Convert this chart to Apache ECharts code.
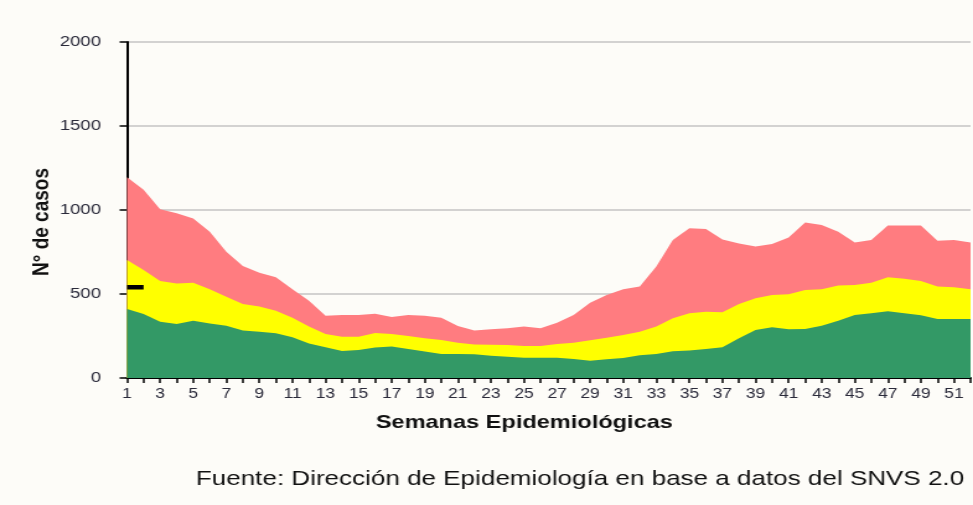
<!DOCTYPE html>
<html>
<head>
<meta charset="utf-8">
<script src="https://cdn.jsdelivr.net/npm/echarts@6/dist/echarts.min.js"></script>
<style>
  html, body { margin: 0; padding: 0; background: #fdfcf8; overflow: hidden; }
  /* the chart is laid out narrow and widened as a whole */
  #chart { width: 785px; height: 505px; transform: scaleX(1.23949); transform-origin: 0 0; }
</style>
</head>
<body>
<div id="chart"></div>
<script>
// Epidemiological weeks 1..52
const weeks = Array.from({ length: 52 }, (_, i) => String(i + 1));

// Endemic channel limits (cases per week)
const upperQuartile = [1195, 1120, 1004, 980, 950, 871, 752, 667, 627, 599, 528, 460, 371, 375, 375, 383, 363, 375, 371, 359, 310, 282, 290, 296, 306, 296, 329, 375, 448, 494, 528, 544, 663, 821, 891, 887, 825, 801, 782, 798, 837, 925, 911, 871, 806, 821, 907, 907, 907, 817, 821, 806];
const median = [702, 643, 577, 563, 567, 528, 484, 440, 425, 401, 359, 306, 262, 246, 246, 268, 262, 250, 236, 226, 210, 200, 198, 196, 190, 190, 202, 210, 224, 240, 256, 276, 306, 355, 385, 395, 391, 440, 474, 494, 498, 524, 528, 550, 554, 567, 599, 591, 577, 544, 540, 528];
const lowerQuartile = [411, 381, 335, 321, 341, 325, 311, 282, 276, 266, 242, 206, 183, 161, 167, 181, 187, 173, 157, 143, 143, 141, 133, 127, 121, 121, 121, 113, 103, 111, 119, 135, 143, 159, 163, 173, 183, 236, 286, 302, 290, 292, 311, 341, 375, 385, 397, 385, 373, 351, 351, 351];

// Cases reported in the current year
const currentYear = [540, 540];

const yTicks = { min: 0, max: 2000, interval: 500 };

const chart = echarts.init(document.getElementById('chart'));

function band(name, data, color) {
  return {
    name, type: 'line', data,
    showSymbol: false, symbol: 'none', smooth: false,
    lineStyle: { width: 0 },
    areaStyle: { color, opacity: 1, origin: 'start' },
    emphasis: { disabled: true },
    silent: true
  };
}

chart.setOption({
  backgroundColor: '#fdfcf8',
  animation: false,
  grid: { left: 102.5, right: 2, top: 42, bottom: 127 },
  xAxis: {
    type: 'category',
    data: weeks,
    boundaryGap: false,
    axisLine: { lineStyle: { color: '#000', width: 2 } },
    axisTick: { show: true, length: 5, interval: 0, lineStyle: { color: '#000', width: 1.5 } },
    axisLabel: { interval: 1, margin: 9, fontFamily: 'Liberation Sans', fontSize: 14, color: '#2a2a3a' },
    splitLine: { show: false }
  },
  yAxis: {
    type: 'value',
    min: yTicks.min, max: yTicks.max, interval: yTicks.interval,
    axisLine: { show: true, lineStyle: { color: '#000', width: 2 } },
    axisTick: { show: true, length: 6, lineStyle: { color: '#000', width: 1.5 } },
    axisLabel: { margin: 21, fontFamily: 'Liberation Sans', fontSize: 15, color: '#2a2a3a',
                 formatter: (v) => String(v) },
    splitLine: { show: true, lineStyle: { color: '#c4c4c4', width: 1.5 } }
  },
  series: [
    band('Zona de alerta', upperQuartile, '#ff7c80'),
    band('Zona de seguridad', median, '#ffff00'),
    band('Zona de éxito', lowerQuartile, '#339966'),
    {
      name: 'Casos', type: 'line', data: currentYear,
      showSymbol: false, symbol: 'none',
      lineStyle: { color: '#000', width: 4.5 },
      silent: true, z: 5
    }
  ],
  graphic: [
    {
      type: 'text', x: 34, y: 222, rotation: Math.PI / 2,
      style: { text: 'N° de casos', fontFamily: 'Liberation Sans', fontWeight: 'bold', fontSize: 19,
               fill: '#111', align: 'center', verticalAlign: 'middle' }
    },
    {
      type: 'text', x: 423, y: 423,
      style: { text: 'Semanas Epidemiológicas', fontFamily: 'Liberation Sans', fontWeight: 'bold', fontSize: 19,
               fill: '#111', align: 'center', verticalAlign: 'middle' }
    },
    {
      type: 'text', x: 158, y: 479,
      style: { text: 'Fuente: Dirección de Epidemiología en base a datos del SNVS 2.0', fontFamily: 'Liberation Sans',
               fontSize: 21, fill: '#111', align: 'left', verticalAlign: 'middle' }
    }
  ]
});
</script>
</body>
</html>
